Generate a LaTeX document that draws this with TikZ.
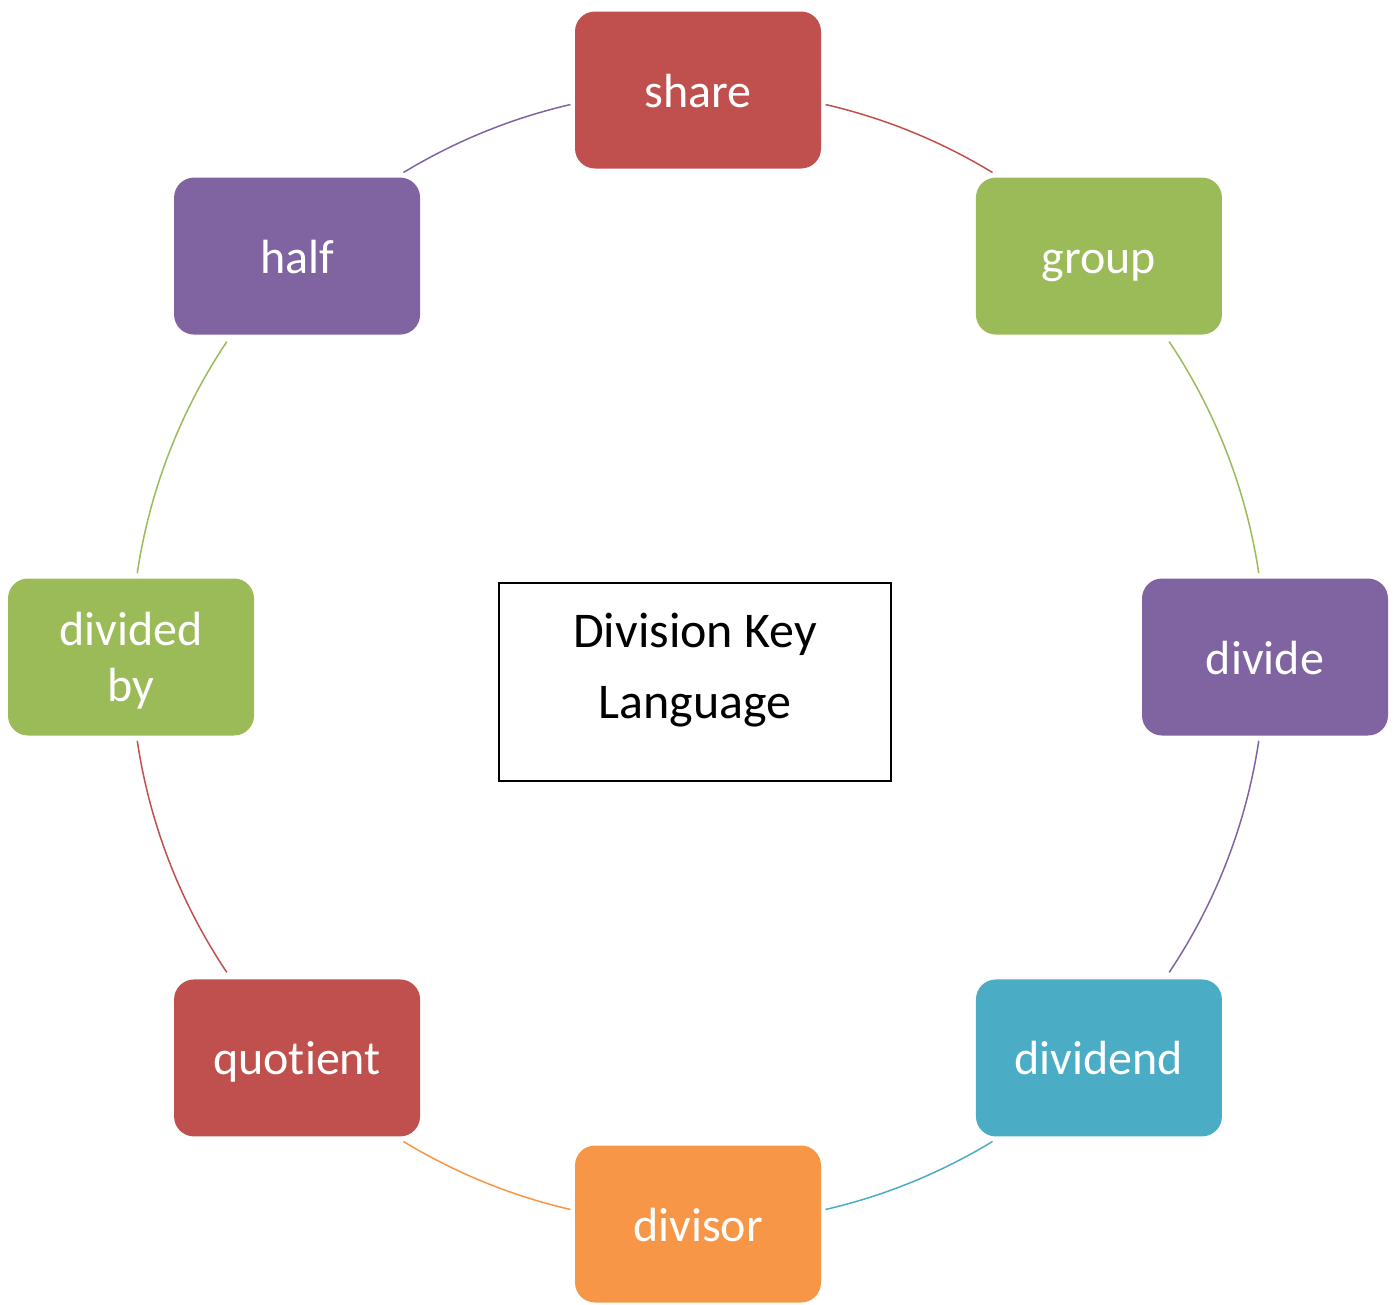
\documentclass[tikz,border=0pt]{standalone}
\usepackage{fontspec}
\setmainfont{Carlito}[RawFeature={-liga,-dlig,-clig}]
\usetikzlibrary{calc}
\definecolor{cred}{HTML}{C0504D}
\definecolor{cgreen}{HTML}{9BBB59}
\definecolor{cpurple}{HTML}{8064A2}
\definecolor{caqua}{HTML}{4BACC6}
\definecolor{corange}{HTML}{F79646}
\begin{document}
\begin{tikzpicture}[x=1pt,y=1pt,
  item/.style={rounded corners=20pt, minimum width=246pt, minimum height=157pt, inner sep=0pt, text=white, align=center, font=\fontsize{48}{56}\selectfont},
  oneline/.style={text height=41pt, text depth=7pt},
  link/.style={line width=1.5pt},
  keybox/.style={draw=black, line width=2pt, minimum width=392pt, minimum height=198pt, inner sep=0pt},
  keytext/.style={align=center, inner sep=0pt, font=\fontsize{50}{71}\selectfont}]
\useasboundingbox (0,0) rectangle (1400,-1304);
\coordinate (c) at (698,-657);
\node[item, oneline, fill=cred] (share) at ($(c)+(90:567pt)$) {share};
\node[item, oneline, fill=cgreen] (group) at ($(c)+(45:567pt)$) {group};
\node[item, oneline, fill=cpurple] (divide) at ($(c)+(0:567pt)$) {divide};
\node[item, oneline, fill=caqua] (dividend) at ($(c)+(-45:567pt)$) {dividend};
\node[item, oneline, fill=corange] (divisor) at ($(c)+(-90:567pt)$) {divisor};
\node[item, oneline, fill=cred] (quotient) at ($(c)+(-135:567pt)$) {quotient};
\node[item, fill=cgreen] (dividedby) at ($(c)+(180:567pt)$) {\rule{0pt}{40pt}divided\\by};
\node[item, oneline, fill=cpurple] (half) at ($(c)+(135:567pt)$) {half};
\draw[link, cred] ($(c)+(77:567pt)$) arc[start angle=77, end angle=58.7, radius=567pt];
\draw[link, cgreen] ($(c)+(33.8:567pt)$) arc[start angle=33.8, end angle=8.5, radius=567pt];
\draw[link, cpurple] ($(c)+(-8.5:567pt)$) arc[start angle=-8.5, end angle=-33.8, radius=567pt];
\draw[link, caqua] ($(c)+(-58.7:567pt)$) arc[start angle=-58.7, end angle=-77, radius=567pt];
\draw[link, corange] ($(c)+(-103:567pt)$) arc[start angle=-103, end angle=-121.3, radius=567pt];
\draw[link, cred] ($(c)+(-146.2:567pt)$) arc[start angle=-146.2, end angle=-171.5, radius=567pt];
\draw[link, cgreen] ($(c)+(171.5:567pt)$) arc[start angle=171.5, end angle=146.2, radius=567pt];
\draw[link, cpurple] ($(c)+(121.3:567pt)$) arc[start angle=121.3, end angle=103, radius=567pt];
\node[keybox] (key) at (695,-682) {};
\node[keytext] (keylabel) at ([yshift=12pt]key.center) {Division Key\\Language};
\end{tikzpicture}
\end{document}
